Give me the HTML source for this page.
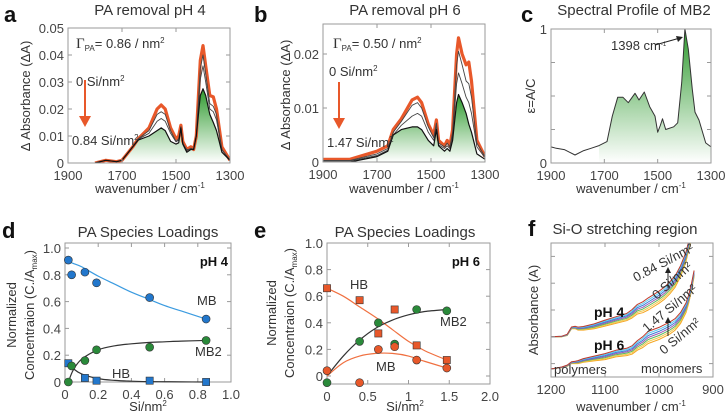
<!DOCTYPE html>
<html><head><meta charset="utf-8"><style>
html,body{margin:0;padding:0;background:#fff;}
svg{display:block;font-family:"Liberation Sans",sans-serif;}
.tk{font-size:13px;fill:#444;}
.ttl{font-size:15px;fill:#333;}
.lab{font-size:13px;fill:#333;}
.let{font-size:22px;font-weight:bold;fill:#111;}
</style></head><body>
<svg id="fig" width="725" height="417" viewBox="0 0 725 417">
<defs>
<linearGradient id="gg" x1="0" y1="0" x2="0" y2="1"><stop offset="0" stop-color="#2e9a2e"/><stop offset="1" stop-color="#ffffff"/></linearGradient>
<clipPath id="clipA"><rect x="68" y="28" width="162" height="135"/></clipPath>
<clipPath id="clipB"><rect x="323" y="24" width="162" height="138"/></clipPath>
<clipPath id="clipF"><rect x="551" y="243" width="162" height="134"/></clipPath>
</defs>
<g id="layer"></g>

<text class="let" x="4" y="22">a</text>
<text class="ttl" x="150" y="15" text-anchor="middle">PA removal pH 4</text>
<text class="lab" x="0" y="0" text-anchor="middle" transform="translate(30,96) rotate(-90)">Δ Absorbance (ΔA)</text>
<text class="lab" x="150" y="193" text-anchor="middle">wavenumber / cm<tspan font-size="8" dy="-5">-1</tspan></text>
<text class="lab" x="76" y="48"><tspan font-family="Liberation Serif" font-size="15">Γ</tspan><tspan font-size="8" dy="3">PA</tspan><tspan dy="-3">= 0.86 / nm</tspan><tspan font-size="8" dy="-5">2</tspan></text>
<text class="lab" x="76" y="86" font-size="12">0 Si/nm<tspan font-size="8" dy="-5">2</tspan></text>
<text class="lab" x="72" y="145" font-size="12">0.84 Si/nm<tspan font-size="8" dy="-5">2</tspan></text>
<g><line x1="85" y1="80" x2="85" y2="118" stroke="#e8582a" stroke-width="2"/><polygon points="79,116 91,116 85,127" fill="#e8582a"/></g>

<text class="let" x="254" y="22">b</text>
<text class="ttl" x="405" y="15" text-anchor="middle">PA removal pH 6</text>
<text class="lab" x="0" y="0" text-anchor="middle" transform="translate(290,95) rotate(-90)">Δ Absorbance (ΔA)</text>
<text class="lab" x="404" y="193" text-anchor="middle">wavenumber / cm<tspan font-size="8" dy="-5">-1</tspan></text>
<text class="lab" x="333" y="48"><tspan font-family="Liberation Serif" font-size="15">Γ</tspan><tspan font-size="8" dy="3">PA</tspan><tspan dy="-3">= 0.50 / nm</tspan><tspan font-size="8" dy="-5">2</tspan></text>
<text class="lab" x="329" y="76" font-size="12">0 Si/nm<tspan font-size="8" dy="-5">2</tspan></text>
<text class="lab" x="327" y="147" font-size="12">1.47 Si/nm<tspan font-size="8" dy="-5">2</tspan></text>
<g><line x1="339" y1="82" x2="339" y2="120" stroke="#e8582a" stroke-width="2"/><polygon points="333,118 345,118 339,129" fill="#e8582a"/></g>

<text class="let" x="521" y="22">c</text>
<text class="ttl" x="634" y="15" text-anchor="middle">Spectral Profile of MB2</text>
<text class="lab" x="0" y="0" text-anchor="middle" transform="translate(535,96) rotate(-90)">ε=A/C</text>
<text class="lab" x="631" y="193" text-anchor="middle">wavenumber / cm<tspan font-size="8" dy="-5">-1</tspan></text>
<text class="lab" x="611" y="50" font-size="10">1398 cm<tspan font-size="6" dy="-4">-1</tspan></text>
<g><line x1="655" y1="45" x2="680" y2="38" stroke="#222" stroke-width="1"/><polygon points="683,37 676,36 678,42" fill="#222"/></g>

<text class="let" x="2" y="238">d</text>
<text class="ttl" x="148" y="237" text-anchor="middle">PA Species Loadings</text>
<text class="lab" x="0" y="0" text-anchor="middle" font-size="14" transform="translate(16,315) rotate(-90)">Normalized</text>
<text class="lab" x="0" y="0" text-anchor="middle" font-size="14" transform="translate(34,315) rotate(-90)">Concentraion (C./A<tspan font-size="8" dy="3">max</tspan><tspan dy="-3">)</tspan></text>
<text class="lab" x="148" y="411" text-anchor="middle">Si/nm<tspan font-size="8" dy="-5">2</tspan></text>
<text x="228" y="266" text-anchor="end" font-size="13" font-weight="bold" fill="#111">pH 4</text>
<text class="lab" x="197" y="305" font-size="14">MB</text>
<text class="lab" x="195" y="356" font-size="14">MB2</text>
<text class="lab" x="112" y="378" font-size="14">HB</text>

<text class="let" x="254" y="238">e</text>
<text class="ttl" x="405" y="237" text-anchor="middle">PA Species Loadings</text>
<text class="lab" x="0" y="0" text-anchor="middle" font-size="14" transform="translate(276,313) rotate(-90)">Normalized</text>
<text class="lab" x="0" y="0" text-anchor="middle" font-size="14" transform="translate(294,313) rotate(-90)">Concentraion (C./A<tspan font-size="8" dy="3">max</tspan><tspan dy="-3">)</tspan></text>
<text class="lab" x="405" y="411" text-anchor="middle">Si/nm<tspan font-size="8" dy="-5">2</tspan></text>
<text x="480" y="266" text-anchor="end" font-size="13" font-weight="bold" fill="#111">pH 6</text>
<text class="lab" x="350" y="289" font-size="14">HB</text>
<text class="lab" x="440" y="326" font-size="14">MB2</text>
<text class="lab" x="376" y="371" font-size="14">MB</text>

<text class="let" x="528" y="236">f</text>
<text class="ttl" x="625" y="234" text-anchor="middle">Si-O stretching region</text>
<text class="lab" x="0" y="0" text-anchor="middle" transform="translate(538,310) rotate(-90)">Absorbance (A)</text>
<text class="lab" x="631" y="411" text-anchor="middle">wavenumber / cm<tspan font-size="8" dy="-5">-1</tspan></text>
<text x="594" y="317" font-size="14" font-weight="bold" fill="#111">pH 4</text>
<text x="594" y="350" font-size="14" font-weight="bold" fill="#111">pH 6</text>
<text class="lab" x="554" y="374" font-size="11">polymers</text>
<text class="lab" x="641" y="373" font-size="11">monomers</text>
<text class="lab" font-size="9" transform="translate(636,282) rotate(-28)">0.84 Si/nm²</text>
<text class="lab" font-size="9" transform="translate(657,300) rotate(-42)">0 Si/nm²</text>
<text class="lab" font-size="9" transform="translate(647,333) rotate(-40)">1.47 Si/nm²</text>
<text class="lab" font-size="9" transform="translate(664,355) rotate(-40)">0 Si/nm²</text>
<g>
<line x1="668" y1="288" x2="668" y2="272" stroke="#222"/><polygon points="665,273 671,273 668,267" fill="#222"/>
<line x1="668" y1="336" x2="668" y2="322" stroke="#222"/><polygon points="665,323 671,323 668,317" fill="#222"/>
</g>
</svg>
<script>
const aWn = [1800,1760,1720,1700,1660,1640,1600,1570,1555,1540,1520,1500,1490,1482,1475,1460,1445,1435,1425,1410,1400,1390,1375,1362,1350,1330,1300];
const aTop = [0,0.001,0.0005,0.001,0.006,0.009,0.013,0.020,0.0215,0.020,0.013,0.009,0.010,0.014,0.008,0.005,0.006,0.005,0.010,0.038,0.0435,0.036,0.025,0.0245,0.020,0.006,0.001];
const aMid1 = [0,0.001,0.0005,0.001,0.006,0.009,0.012,0.018,0.019,0.018,0.012,0.008,0.009,0.013,0.007,0.005,0.005,0.005,0.010,0.035,0.040,0.033,0.022,0.021,0.018,0.005,0.001];
const aMid2 = [0,0.001,0.0005,0.001,0.006,0.0088,0.011,0.0155,0.0165,0.0155,0.011,0.0078,0.0085,0.0135,0.0075,0.0045,0.0055,0.005,0.010,0.031,0.036,0.030,0.020,0.019,0.016,0.005,0.001];
const aLow = [0,0.001,0.0005,0.001,0.006,0.0085,0.010,0.012,0.013,0.012,0.008,0.007,0.0075,0.013,0.007,0.004,0.005,0.005,0.010,0.025,0.0275,0.025,0.018,0.015,0.012,0.004,0.001];
const bWn = [1900,1800,1700,1660,1640,1610,1570,1550,1535,1510,1490,1480,1472,1450,1440,1430,1420,1405,1398,1385,1370,1360,1350,1330,1300];
const bTop = [0.0005,0.0005,0.002,0.003,0.006,0.008,0.0115,0.012,0.011,0.007,0.005,0.0078,0.004,0.003,0.004,0.003,0.006,0.020,0.023,0.020,0.018,0.0185,0.015,0.004,0.001];
const bMid1 = [0.0003,0.0003,0.0015,0.0025,0.0055,0.0075,0.0105,0.011,0.010,0.0065,0.0045,0.0072,0.0035,0.0028,0.0035,0.0028,0.0055,0.018,0.0205,0.018,0.015,0.0145,0.012,0.0035,0.001];
const bMid2 = [0.0002,0.0002,0.0012,0.0022,0.005,0.0068,0.0085,0.009,0.0085,0.0055,0.004,0.0068,0.0032,0.0025,0.003,0.0025,0.005,0.0145,0.0165,0.0145,0.012,0.011,0.009,0.0028,0.0008];
const bLow = [0,0,0.001,0.002,0.005,0.006,0.0065,0.0065,0.006,0.004,0.003,0.006,0.003,0.002,0.0025,0.002,0.004,0.011,0.0125,0.011,0.009,0.007,0.0055,0.0015,0.0005];
const cWn = [1900,1880,1850,1830,1810,1780,1750,1720,1690,1670,1650,1630,1610,1585,1570,1550,1530,1510,1500,1490,1482,1470,1440,1425,1410,1398,1385,1370,1360,1345,1320,1300];
const cEps = [0.12,0.11,0.10,0.08,0.06,0.09,0.11,0.13,0.16,0.35,0.49,0.49,0.45,0.52,0.47,0.53,0.42,0.35,0.23,0.28,0.33,0.25,0.27,0.30,0.60,1.0,0.85,0.55,0.38,0.32,0.15,0.12];
const dMBx = [0.02,0.04,0.12,0.19,0.51,0.85];
const dMBy = [0.91,0.80,0.82,0.74,0.63,0.47];
const dMB2x = [0.02,0.04,0.12,0.19,0.51,0.85];
const dMB2y = [0,0.12,0.16,0.24,0.26,0.31];
const dHBx = [0.02,0.12,0.19,0.51,0.85];
const dHBy = [0.14,0.03,0.01,0.01,0];
const dFitX = [0.02,0.05,0.1,0.2,0.3,0.4,0.5,0.6,0.7,0.85];
const dFitMB = [0.90,0.885,0.86,0.79,0.73,0.67,0.62,0.57,0.53,0.47];
const dFitMB2 = [0,0.09,0.17,0.24,0.27,0.285,0.295,0.30,0.305,0.31];
const dFitHB = [0.14,0.10,0.06,0.025,0.012,0.006,0.003,0.002,0.001,0];
const eHBx = [0,0.4,0.63,0.83,1.1,1.47];
const eHBy = [0.66,0.57,0.32,0.50,0.23,0.12];
const eMB2x = [0,0.4,0.63,0.83,1.1,1.47];
const eMB2y = [-0.05,0.26,0.40,0.24,0.50,0.49];
const eMBx = [0,0.4,0.63,0.83,1.1,1.47];
const eMBy = [0.04,-0.05,0.20,0.22,0.12,0.06];
const eFitX = [0,0.2,0.4,0.6,0.8,1.0,1.2,1.47];
const eFitHB = [0.66,0.60,0.52,0.44,0.35,0.26,0.19,0.12];
const eFitMB2 = [0,0.15,0.27,0.36,0.42,0.46,0.485,0.50];
const eFitMB = [0,0.10,0.15,0.17,0.17,0.15,0.11,0.06];
const fWn = [1200,1180,1170,1162,1155,1150,1140,1120,1100,1080,1060,1050,1040,1030,1020,1000,990,980,970,960,950,945,940,935];
const fPH4 = [0.30,0.30,0.31,0.36,0.36,0.35,0.35,0.36,0.38,0.40,0.42,0.44,0.47,0.48,0.50,0.55,0.58,0.62,0.67,0.75,0.86,0.95,1.02,1.1];
const fPH6 = [0.06,0.07,0.08,0.10,0.10,0.10,0.11,0.12,0.13,0.15,0.16,0.17,0.20,0.22,0.25,0.28,0.30,0.32,0.35,0.40,0.48,0.55,0.64,0.75];
const fShape = [0,0.05,0.1,0.15,0.2,0.25,0.3,0.4,0.5,0.55,0.6,0.7,0.8,0.9,1,1,1,1,0.95,0.9,0.8,0.7,0.6,0.5];
const fPH4Shift = [0,0.015,0.03,0.045,0.06,0.075,0.09];
const fPH6Shift = [0,0.015,0.03,0.045,0.06,0.075,0.09];
const fColors = ['#f5a623','#f2c94c','#5cb85c','#9b59b6','#3b7dd8','#5bc8f0','#c0392b'];
const ticksWn = [1900,1700,1500,1300];

const NS='http://www.w3.org/2000/svg';
const layer=document.getElementById('layer');
function mk(tag,attrs,parent){const e=document.createElementNS(NS,tag);for(const k in attrs)e.setAttribute(k,attrs[k]);(parent||layer).appendChild(e);return e;}
function lin(d0,d1,r0,r1){return v=>r0+(v-d0)*(r1-r0)/(d1-d0);}
function pathD(xs,ys,sx,sy){return xs.map((x,i)=>(i?'L':'M')+sx(x).toFixed(1)+','+sy(ys[i]).toFixed(1)).join('');}
function box(x,y,w,h,name){const r=mk('rect',{x:x,y:y,width:w,height:h,fill:'none',stroke:'#9a9a9a','stroke-width':1});}
function xTicks(vals,labels,sx,y0,y1,name){vals.forEach((v,i)=>{const l=mk('line',{x1:sx(v),x2:sx(v),y1:y0,y2:y0-4,stroke:'#9a9a9a'});mk('line',{x1:sx(v),x2:sx(v),y1:y1,y2:y1+4,stroke:'#9a9a9a'});if(labels){const t=mk('text',{x:sx(v),y:y0+17,'text-anchor':'middle',class:'tk'});t.textContent=labels[i];}});}
function yTicks(vals,labels,sy,x0,x1,name){vals.forEach((v,i)=>{const l=mk('line',{x1:x0,x2:x0+4,y1:sy(v),y2:sy(v),stroke:'#9a9a9a'});mk('line',{x1:x1,x2:x1-4,y1:sy(v),y2:sy(v),stroke:'#9a9a9a'});if(labels){const t=mk('text',{x:x0-4,y:sy(v)+5,'text-anchor':'end',class:'tk'});t.textContent=labels[i];}});}
function line(xs,ys,sx,sy,col,w,name,clip){const p=mk('path',{d:pathD(xs,ys,sx,sy),fill:'none',stroke:col,'stroke-width':w,'stroke-linejoin':'round'});if(clip)p.setAttribute('clip-path',clip);return p;}
function fillUnder(xs,ys,sx,sy,base,name){const d=pathD(xs,ys,sx,sy)+'L'+sx(xs[xs.length-1])+','+base+'L'+sx(xs[0])+','+base+'Z';const p=mk('path',{d:d,fill:'url(#gg)',stroke:'none'});}
function smooth(xs,ys,sx,sy,col,name){const pts=xs.map((x,i)=>[sx(x),sy(ys[i])]);let d='M'+pts[0][0]+','+pts[0][1];for(let i=0;i<pts.length-1;i++){const p0=pts[i-1]||pts[i],p1=pts[i],p2=pts[i+1],p3=pts[i+2]||p2;d+='C'+(p1[0]+(p2[0]-p0[0])/6)+','+(p1[1]+(p2[1]-p0[1])/6)+' '+(p2[0]-(p3[0]-p1[0])/6)+','+(p2[1]-(p3[1]-p1[1])/6)+' '+p2[0]+','+p2[1];}const p=mk('path',{d:d,fill:'none',stroke:col,'stroke-width':1.2});}
function dots(xs,ys,sx,sy,fill,shape,name){xs.forEach((x,i)=>{let e;if(shape==='sq')e=mk('rect',{x:sx(x)-3.6,y:sy(ys[i])-3.6,width:7.2,height:7.2,fill:fill,stroke:'#333','stroke-width':0.6});else e=mk('circle',{cx:sx(x),cy:sy(ys[i]),r:4,fill:fill,stroke:'#333','stroke-width':0.6});});}

{const sx=lin(1900,1300,68,230),sy=lin(0,0.05,163,28);
fillUnder(aWn,aLow,sx,sy,163,'panel-a-green-fill');
line(aWn,aTop,sx,sy,'#e8582a',3.2,'panel-a-orange-line','url(#clipA)');
line(aWn,aMid1,sx,sy,'#444',0.9,'panel-a-mid-line-1','url(#clipA)');
line(aWn,aMid2,sx,sy,'#444',0.9,'panel-a-mid-line-2','url(#clipA)');
line(aWn,aLow,sx,sy,'#111',1.2,'panel-a-low-line','url(#clipA)');
box(68,28,162,135,'panel-a-axes');
xTicks(ticksWn,['1900','1700','1500','1300'],sx,163,28,'panel-a-x');
yTicks([0,0.01,0.02,0.03,0.04,0.05],['0','0.01','0.02','0.03','0.04','0.05'],sy,68,230,'panel-a-y');}
{const sx=lin(1900,1300,323,485),sy=lin(0,0.02,162,54);
fillUnder(bWn,bLow,sx,sy,162,'panel-b-green-fill');
line(bWn,bTop,sx,sy,'#e8582a',3.2,'panel-b-orange-line','url(#clipB)');
line(bWn,bMid1,sx,sy,'#444',0.9,'panel-b-mid-line-1','url(#clipB)');
line(bWn,bMid2,sx,sy,'#444',0.9,'panel-b-mid-line-2','url(#clipB)');
line(bWn,bLow,sx,sy,'#111',1.2,'panel-b-low-line','url(#clipB)');
box(323,24,162,138,'panel-b-axes');
xTicks(ticksWn,['1900','1700','1500','1300'],sx,162,24,'panel-b-x');
yTicks([0,0.01,0.02],['0','0.01','0.02'],sy,323,485,'panel-b-y');}
{const sx=lin(1900,1300,551,711),sy=lin(0,1,163,29);
fillUnder(cWn.slice(7),cEps.slice(7),sx,sy,163,'panel-c-green-fill');
line(cWn,cEps,sx,sy,'#333',1,'panel-c-profile-line');
box(551,29,160,134,'panel-c-axes');
xTicks(ticksWn,['1900','1700','1500','1300'],sx,163,29,'panel-c-x');
yTicks([0,0.25,0.5,0.75,1],['0','','','','1'],sy,551,711,'panel-c-y');}
{const sx=lin(0,1,65,231),sy=lin(0,1,382,248);
box(65,243,166,139,'panel-d-axes');
xTicks([0,0.2,0.4,0.6,0.8,1.0],['0','0.2','0.4','0.6','0.8','1.0'],sx,382,243,'panel-d-x');
yTicks([0,0.2,0.4,0.6,0.8,1.0],['0','0.2','0.4','0.6','0.8','1.0'],sy,65,231,'panel-d-y');
smooth(dFitX,dFitMB,sx,sy,'#3b9be0','panel-d-mb-fit');
smooth(dFitX,dFitMB2,sx,sy,'#333','panel-d-mb2-fit');
smooth(dFitX,dFitHB,sx,sy,'#333','panel-d-hb-fit');
dots(dHBx,dHBy,sx,sy,'#2277cc','sq','panel-d-hb-point');
dots(dMBx,dMBy,sx,sy,'#2277cc','c','panel-d-mb-point');
dots(dMB2x,dMB2y,sx,sy,'#2a8a3a','c','panel-d-mb2-point');}
{const sx=lin(0,2,327,490),sy=lin(0,1,376,243);
box(327,243,163,141,'panel-e-axes');
xTicks([0,0.5,1,1.5,2],['0','0.5','1','1.5','2.0'],sx,384,243,'panel-e-x');
yTicks([0,0.2,0.4,0.6,0.8,1.0],['0','0.2','0.4','0.6','0.8','1.0'],sy,327,490,'panel-e-y');
smooth(eFitX,eFitHB,sx,sy,'#f07040','panel-e-hb-fit');
smooth(eFitX,eFitMB2,sx,sy,'#333','panel-e-mb2-fit');
smooth(eFitX,eFitMB,sx,sy,'#f07040','panel-e-mb-fit');
dots(eHBx,eHBy,sx,sy,'#e8582a','sq','panel-e-hb-point');
dots(eMB2x,eMB2y,sx,sy,'#2a8a3a','c','panel-e-mb2-point');
dots(eMBx,eMBy,sx,sy,'#e8582a','c','panel-e-mb-point');}
{const sx=lin(1200,900,551,713),sy=lin(0,1,377,243);
fPH4Shift.forEach((s,k)=>{const ys=fPH4.map((v,i)=>v+s*fShape[i]);line(fWn,ys,sx,sy,fColors[k],1,'panel-f-ph4-line','url(#clipF)');});
fPH6Shift.forEach((s,k)=>{const ys=fPH6.map((v,i)=>v+s*fShape[i]);line(fWn,ys,sx,sy,fColors[k],1,'panel-f-ph6-line','url(#clipF)');});
box(551,243,162,134,'panel-f-axes');
xTicks([1200,1100,1000,900],['1200','1100','1000','900'],sx,377,243,'panel-f-x');
yTicks([0.1,0.3,0.5,0.7,0.9],null,sy,551,713,'panel-f-y');}
</script>
</body></html>
